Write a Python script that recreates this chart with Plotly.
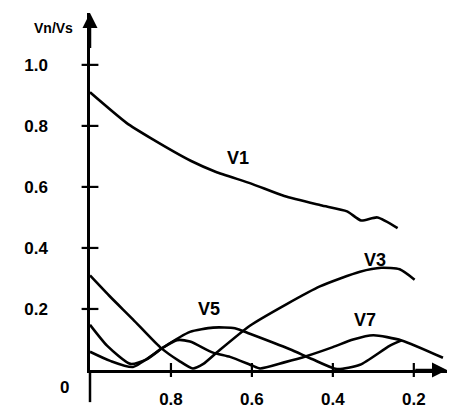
import plotly.graph_objects as go

# Data (x = modulation ratio, decreasing to the right)
v1_x = [1.0, 0.91, 0.85, 0.75, 0.69, 0.60, 0.52, 0.43, 0.365, 0.33, 0.29, 0.24]
v1_y = [0.91, 0.81, 0.76, 0.685, 0.65, 0.61, 0.57, 0.54, 0.52, 0.49, 0.50, 0.465]

v3_x = [1.0, 0.95, 0.894, 0.827, 0.78, 0.746, 0.72, 0.687, 0.605, 0.514, 0.432, 0.333, 0.28, 0.235, 0.198]
v3_y = [0.31, 0.24, 0.166, 0.075, 0.03, 0.005, 0.02, 0.057, 0.145, 0.216, 0.274, 0.322, 0.335, 0.33, 0.296]

v5_x = [1.0, 0.958, 0.90, 0.86, 0.82, 0.753, 0.696, 0.642, 0.605, 0.506, 0.45, 0.39, 0.333, 0.26, 0.23]
v5_y = [0.148, 0.08, 0.02, 0.035, 0.073, 0.125, 0.139, 0.137, 0.119, 0.068, 0.035, 0.003, 0.017, 0.079, 0.097]

v7_x = [1.0, 0.95, 0.894, 0.82, 0.785, 0.753, 0.696, 0.654, 0.60, 0.58, 0.52, 0.464, 0.40, 0.35, 0.30, 0.23, 0.128]
v7_y = [0.06, 0.03, 0.01, 0.073, 0.098, 0.093, 0.057, 0.043, 0.015, 0.005, 0.025, 0.046, 0.075, 0.10, 0.114, 0.097, 0.04]

series_names = ["V1", "V3", "V5", "V7"]
label_x = [0.635, 0.296, 0.706, 0.32]
label_y = [0.695, 0.36, 0.20, 0.165]

x_ticks = [0.8, 0.6, 0.4, 0.2]
x_tick_text = ["0.8", "0.6", "0.4", "0.2"]
y_ticks = [0.2, 0.4, 0.6, 0.8, 1.0]
y_tick_text = ["0.2", "0.4", "0.6", "0.8", "1.0"]

FONT = "Liberation Sans"
INK = "#000000"

fig = go.Figure()
series = [(v1_x, v1_y), (v3_x, v3_y), (v5_x, v5_y), (v7_x, v7_y)]
for name, (xs, ys) in zip(series_names, series):
    fig.add_trace(go.Scatter(
        x=xs, y=ys, mode="lines", name=name,
        line=dict(color=INK, width=2.6, shape="spline", smoothing=0.6),
        hoverinfo="skip", showlegend=False,
    ))

# curve labels
for name, lx, ly in zip(series_names, label_x, label_y):
    fig.add_annotation(x=lx, y=ly, text=name, showarrow=False,
                       font=dict(family=FONT, size=18, color=INK, weight=700))

# tick crosses on the axes
fig.add_trace(go.Scatter(x=[1.0] * len(y_ticks), y=y_ticks, mode="markers",
                         marker=dict(symbol="line-ew", size=12, line=dict(width=2.2, color=INK)),
                         cliponaxis=False, hoverinfo="skip", showlegend=False))
fig.add_trace(go.Scatter(x=x_ticks, y=[0] * len(x_ticks), mode="markers",
                         marker=dict(symbol="line-ns", size=10, line=dict(width=2.2, color=INK)),
                         cliponaxis=False, hoverinfo="skip", showlegend=False))

# axis arrows
fig.add_annotation(x=1.0, y=1.17, ax=1.0, ay=1.05, xref="x", yref="y", axref="x", ayref="y",
                   showarrow=True, arrowhead=2, arrowsize=1.2, arrowwidth=2.5, arrowcolor=INK, text="")
fig.add_annotation(x=0.118, y=0, ax=0.2, ay=0, xref="x", yref="y", axref="x", ayref="y",
                   showarrow=True, arrowhead=2, arrowsize=1.2, arrowwidth=2.5, arrowcolor=INK, text="")

# short extension of the y axis below the origin
fig.add_shape(type="line", xref="paper", yref="paper", x0=0, x1=0, y0=-0.09, y1=0,
              line=dict(color=INK, width=2.5))

# axis title and origin label
fig.add_annotation(xref="paper", yref="paper", x=-0.162, y=0.986, text="Vn/Vs", showarrow=False,
                   font=dict(family=FONT, size=14, color=INK, weight=700))
fig.add_annotation(xref="paper", yref="y", x=-0.09, y=0, yshift=-17, text="0", showarrow=False,
                   font=dict(family=FONT, size=17, color=INK, weight=700))

fig.update_xaxes(range=[1.0, 0.118], tickvals=x_ticks, ticktext=x_tick_text,
                 showgrid=False, zeroline=False, showline=True, linecolor=INK, linewidth=2.5,
                 ticks="", ticklabelstandoff=12,
                 tickfont=dict(family=FONT, size=17, color=INK, weight=700))
fig.update_yaxes(range=[0, 1.17], tickvals=y_ticks, ticktext=y_tick_text,
                 showgrid=False, zeroline=False, showline=True, linecolor=INK, linewidth=2.5,
                 ticks="", ticklabelstandoff=36,
                 tickfont=dict(family=FONT, size=17, color=INK, weight=700))

fig.update_layout(width=451, height=416, margin=dict(l=90, r=4, t=13, b=46),
                  paper_bgcolor="white", plot_bgcolor="white")

fig.write_html("out.html")
